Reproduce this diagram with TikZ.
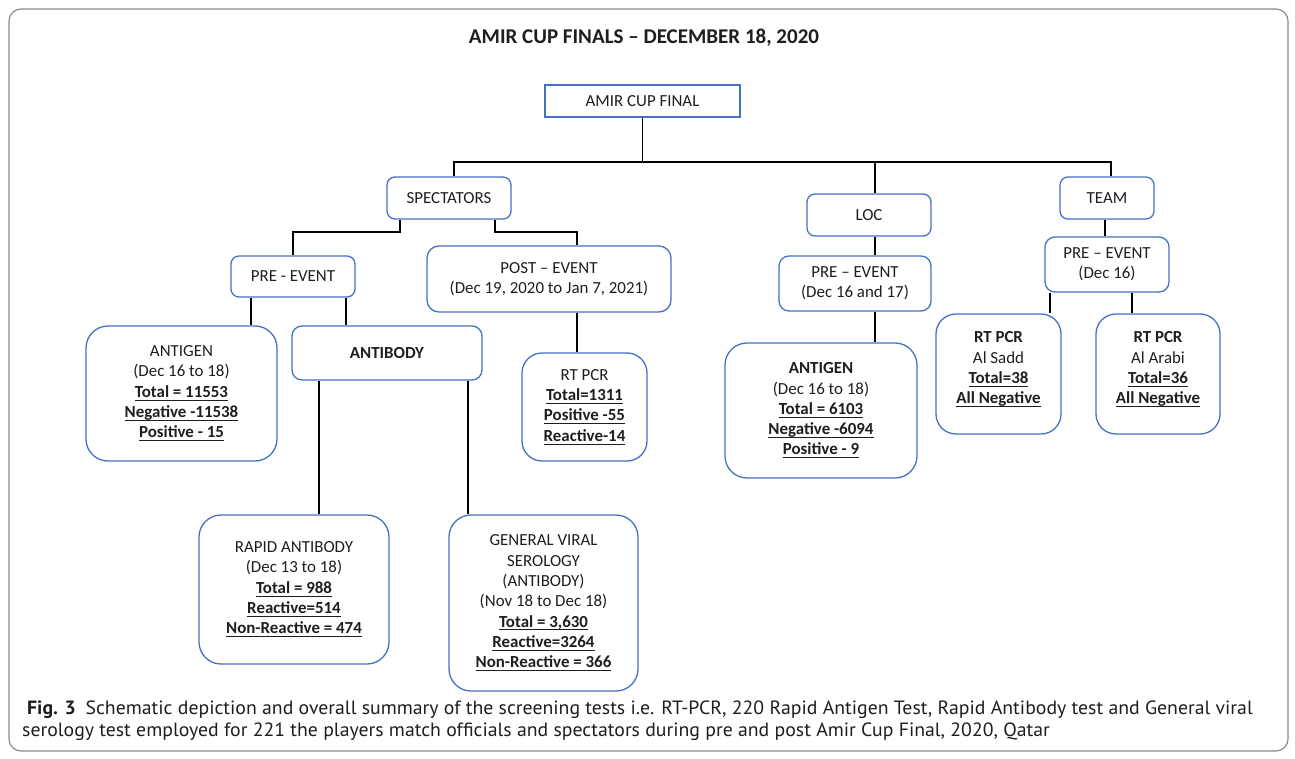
\documentclass[tikz,border=0pt]{standalone}
\usepackage{fontspec}
\setmainfont{Carlito}
\newfontfamily\capfont[FakeStretch=1.03]{PT Sans}
\definecolor{boxblue}{HTML}{4472C4}
\definecolor{txt}{HTML}{1E1E1E}
\definecolor{framegray}{HTML}{8A8A8A}
\newcommand\bu[1]{\setbox0\hbox{\bfseries #1}\leavevmode\rlap{\copy0}\rule[-3.4pt]{\wd0}{1.1pt}}
\tikzset{
  box/.style={draw=boxblue, line width=1.3pt, rounded corners=#1, align=center, inner sep=0pt,
    font=\fontsize{16.9}{20.3}\selectfont, text=txt},
  box/.default=10pt,
  plainbox/.style={draw=boxblue, line width=1.3pt, align=center, inner sep=0pt,
    font=\fontsize{16.9}{20.3}\selectfont, text=txt},
  conn/.style={draw=black, line width=1.8pt},
}
\begin{document}
\begin{tikzpicture}[x=1pt,y=-1pt]
\useasboundingbox (0,0) rectangle (1295,759);
\draw[framegray, line width=1.2pt, rounded corners=12pt] (9,9) rectangle (1288,751);

\node[font=\bfseries\fontsize{21}{25}\selectfont, text=txt] (title) at (644,38) {AMIR CUP FINALS – DECEMBER 18, 2020};

% level 0
\node[plainbox, minimum width=195pt, minimum height=32pt] (top) at (642.5,101) {AMIR CUP FINAL};
% level 1
\node[box=8pt, minimum width=124pt, minimum height=42pt] (spect) at (449,198) {SPECTATORS};
\node[box=8pt, minimum width=124pt, minimum height=42pt] (loc) at (869,215) {LOC};
\node[box=8pt, minimum width=94pt, minimum height=42pt] (team) at (1107,198) {TEAM};
% level 2
\node[box=8pt, minimum width=124pt, minimum height=41pt] (pre1) at (293,276.5) {PRE - EVENT};
\node[box=12pt, minimum width=244pt, minimum height=66pt] (post) at (549,279) {POST – EVENT\\(Dec 19, 2020 to Jan 7, 2021)};
\node[box=10pt, minimum width=152pt, minimum height=55pt] (pre2) at (855,283.5) {PRE – EVENT\\(Dec 16 and 17)};
\node[box=10pt, minimum width=124pt, minimum height=55pt] (pre3) at (1107,264.5) {PRE – EVENT\\(Dec 16)};
% level 3
\node[box=22pt, minimum width=191pt, minimum height=135pt] (antigen1) at (181.5,393.5)
  {ANTIGEN\\(Dec 16 to 18)\\\bu{Total = 11553}\\\bu{Negative -11538}\\\bu{Positive - 15}};
\node[box=10pt, minimum width=190pt, minimum height=54pt] (antibody) at (387,353) {\textbf{ANTIBODY}};
\node[box=20pt, minimum width=125pt, minimum height=108pt] (rtpcr1) at (584.5,407)
  {RT PCR\\\bu{Total=1311}\\\bu{Positive -55}\\\bu{Reactive-14}};
\node[box=22pt, minimum width=192pt, minimum height=135pt] (antigen2) at (821,410.5)
  {\textbf{ANTIGEN}\\(Dec 16 to 18)\\\bu{Total = 6103}\\\bu{Negative -6094}\\\bu{Positive - 9}};
\node[box=20pt, minimum width=125pt, minimum height=120pt] (sadd) at (998.5,374)
  {\textbf{RT PCR}\\Al Sadd\\\bu{Total=38}\\\bu{All Negative}\\[-8pt]};
\node[box=20pt, minimum width=124pt, minimum height=120pt] (arabi) at (1158,374)
  {\textbf{RT PCR}\\Al Arabi\\\bu{Total=36}\\\bu{All Negative}\\[-8pt]};
% level 4
\node[box=22pt, minimum width=190pt, minimum height=149pt] (rapid) at (294,589.5)
  {RAPID ANTIBODY\\(Dec 13 to 18)\\\bu{Total = 988}\\\bu{Reactive=514}\\\bu{Non-Reactive = 474}};
\node[box=22pt, minimum width=189pt, minimum height=176pt] (general) at (543.5,603)
  {GENERAL VIRAL\\SEROLOGY\\(ANTIBODY)\\(Nov 18 to Dec 18)\\\bu{Total = 3,630}\\\bu{Reactive=3264}\\\bu{Non-Reactive = 366}};

% connectors
\coordinate (bus) at (642.5,162);
\draw[conn] (top.south) -- (top.south |- bus);
\draw[conn] ([xshift=5pt]spect.north) -- ([xshift=5pt]spect.north |- bus) -| ([xshift=4pt]team.north);
\draw[conn] ([xshift=6pt]loc.north) -- ([xshift=6pt]loc.north |- bus);

\draw[conn] ([xshift=-49pt]spect.south) -- ++(0,12) -| (pre1.north);
\draw[conn] ([xshift=46pt]spect.south) -- ++(0,12) -| ([xshift=28pt]post.north);

\draw[conn] ([xshift=-42pt]pre1.south) -- ([xshift=-42pt]pre1.south |- antigen1.north);
\draw[conn] ([xshift=53pt]pre1.south) -- ([xshift=53pt]pre1.south |- antibody.north);

\draw[conn] ([xshift=28pt]post.south) -- ([xshift=28pt]post.south |- rtpcr1.north);

\draw[conn] ([xshift=-68pt]antibody.south) -- ([xshift=-68pt]antibody.south |- rapid.north);
\draw[conn] ([xshift=81pt]antibody.south) -- ([xshift=81pt]antibody.south |- general.north);

\draw[conn] ([xshift=6pt]loc.south) -- ([xshift=6pt]loc.south |- pre2.north);
\draw[conn] ([xshift=20pt]pre2.south) -- ([xshift=20pt]pre2.south |- antigen2.north);

\draw[conn] ([xshift=-2pt]team.south) -- ([xshift=-2pt]team.south |- pre3.north);
\draw[conn] ([xshift=-57pt]pre3.south) -- ([xshift=-57pt]pre3.south |- sadd.north);
\draw[conn] ([xshift=25pt]pre3.south) -- ([xshift=25pt]pre3.south |- arabi.north);

% caption
\node[anchor=base west, align=left, inner sep=0pt, text=txt,
      font=\capfont\fontsize{19.2}{22}\selectfont] (caption) at (22,736)
  {\hspace*{5pt}\textbf{Fig. 3}\hspace{0.5em}Schematic depiction and overall summary of the screening tests i.e. RT-PCR, 220 Rapid Antigen Test, Rapid Antibody test and General viral\\
   serology test employed for 221 the players match officials and spectators during pre and post Amir Cup Final, 2020, Qatar};
\end{tikzpicture}
\end{document}
